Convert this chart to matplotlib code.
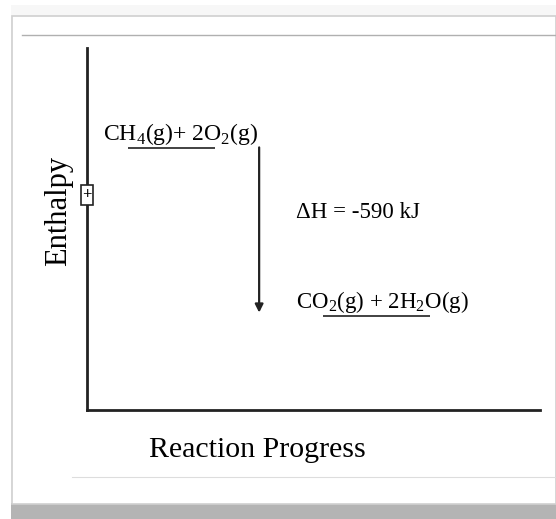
# enthalpy diagram for methane combustion

import numpy as np
import matplotlib.pyplot as plt
from matplotlib.patches import Rectangle

# data
species = ["CH$_4$(g)+ 2O$_2$(g)", "CO$_2$(g) + 2H$_2$O(g)"]
enthalpy = [0, -590]                     # kJ, relative to reactants
level_start = [0.09, 0.52]               # reaction progress where each level begins
level_end = [0.283, 0.757]
dH_label = "ΔH = -590 kJ"

plt.rcParams.update({
    "font.family": ["Liberation Serif", "DejaVu Serif"],
    "mathtext.fontset": "custom",
    "mathtext.rm": "Liberation Serif",
})

fig = plt.figure(figsize=(5.56, 5.19), dpi=100)

# photo-like frame around the diagram
fig.patches.append(Rectangle((0.02, 0.0), 0.98, 0.99, transform=fig.transFigure,
                             facecolor="#f7f7f7", edgecolor="none", zorder=-3))
fig.patches.append(Rectangle((0.02, 0.0), 0.98, 0.03, transform=fig.transFigure,
                             facecolor="#b4b4b4", edgecolor="none", zorder=-2))
fig.patches.append(Rectangle((0.022, 0.028), 0.978, 0.942, transform=fig.transFigure,
                             facecolor="white", edgecolor="#d0d0d0", lw=1.2, zorder=-1))
fig.add_artist(plt.Line2D([0.04, 1.0], [0.933, 0.933], transform=fig.transFigure,
                          color="#b0b0b0", lw=1))
fig.add_artist(plt.Line2D([0.13, 1.0], [0.081, 0.081], transform=fig.transFigure,
                          color="#dddddd", lw=0.8))

ax = fig.add_axes([0.1565, 0.21, 0.8147, 0.6975])
ax.set_xlim(0, 1)
ax.set_ylim(-920, 351)
ax.set_facecolor("none")
ax.spines[["top", "right"]].set_visible(False)
ax.spines[["left", "bottom"]].set_linewidth(2)
ax.spines[["left", "bottom"]].set_color("#222222")
ax.set_xticks([]); ax.set_yticks([])

# energy levels and species labels
ax.hlines(enthalpy, level_start, level_end, color="#333333", lw=1.3)
ax.text(0.035, enthalpy[0] + 5, species[0], fontsize=17, ha="left", va="bottom")
ax.text(0.462, enthalpy[1] + 5, species[1], fontsize=16.5, ha="left", va="bottom")

# delta H arrow
ax.annotate("", xy=(0.38, -578), xytext=(0.38, enthalpy[0] + 2),
            arrowprops=dict(arrowstyle="-|>", color="#222222", lw=1.6,
                            mutation_scale=12, shrinkA=0, shrinkB=0))
ax.text(0.462, -225, dH_label, fontsize=16.5, ha="left", va="center")

# small "+" marker on the enthalpy axis
ax.text(0.0, -165, "+", fontsize=12, fontweight="bold", ha="center", va="center",
        bbox=dict(boxstyle="square,pad=0.1", fc="white", ec="#222222", lw=1.2))

ax.set_xlabel("Reaction Progress", fontsize=21.5)
ax.xaxis.set_label_coords(0.375, -0.075)
ax.set_ylabel("Enthalpy", fontsize=22)
ax.yaxis.set_label_coords(-0.03, 0.55)

fig.savefig("out.png", dpi=100)
